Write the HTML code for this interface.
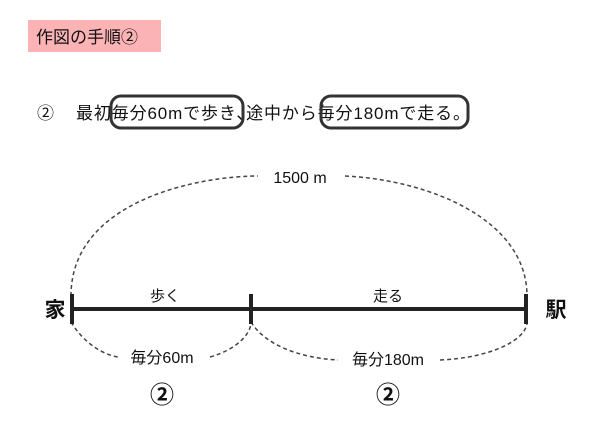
<!DOCTYPE html>
<html><head><meta charset="utf-8"><style>
body{margin:0;width:600px;height:424px;background:#fff;overflow:hidden;font-family:"Liberation Sans","Noto Sans CJK JP",sans-serif;}
</style></head><body>
<svg width="600" height="424" xmlns="http://www.w3.org/2000/svg" font-family="Liberation Sans, Noto Sans CJK JP, sans-serif">
<rect x="28" y="20" width="133" height="32" fill="#fbb3b6"/>
<text x="36" y="43" font-size="17" fill="#111">作図の手順②</text>
<text x="37" y="119" font-size="17" fill="#111">②</text>
<text x="76" y="119" font-size="17" fill="#111" textLength="394">最初毎分60mで歩き､途中から毎分180mで走る。</text>
<rect x="111" y="96" width="132" height="32" rx="10" fill="none" stroke="#333" stroke-width="3"/>
<rect x="321" y="96" width="147" height="32" rx="10" fill="none" stroke="#333" stroke-width="3"/>
<g fill="none" stroke="#444" stroke-width="1.5" stroke-dasharray="4,3">
<path d="M71 296 C 71 200, 200 176, 258 176 M345 176 C 430 180, 527 220, 527 296"/>
<path d="M71 322 C 85 345, 105 355, 118 357 M210 357 C 235 350, 251 335, 251 322"/>
<path d="M251 322 C 265 345, 300 358, 338 360 M440 360 C 490 358, 527 340, 527 322"/>
</g>
<text x="300" y="183" font-size="16" text-anchor="middle" fill="#111">1500 m</text>
<line x1="71" y1="309" x2="527" y2="309" stroke="#222" stroke-width="4"/>
<line x1="72" y1="294" x2="72" y2="324" stroke="#222" stroke-width="4"/>
<line x1="251" y1="294" x2="251" y2="324" stroke="#222" stroke-width="4"/>
<line x1="526" y1="294" x2="526" y2="324" stroke="#222" stroke-width="4"/>
<text x="55" y="317" font-size="21" font-weight="bold" text-anchor="middle" fill="#111">家</text>
<text x="556" y="317" font-size="21" font-weight="bold" text-anchor="middle" fill="#111">駅</text>
<text x="165" y="301" font-size="15" text-anchor="middle" fill="#111">歩く</text>
<text x="388" y="301" font-size="15" text-anchor="middle" fill="#111">走る</text>
<text x="162" y="363" font-size="16" text-anchor="middle" fill="#111">毎分60m</text>
<text x="388" y="365" font-size="16" text-anchor="middle" fill="#111">毎分180m</text>
<text x="162" y="403" font-size="24" font-weight="bold" text-anchor="middle" fill="#111">②</text>
<text x="388" y="403" font-size="24" font-weight="bold" text-anchor="middle" fill="#111">②</text>
</svg>
</body></html>
